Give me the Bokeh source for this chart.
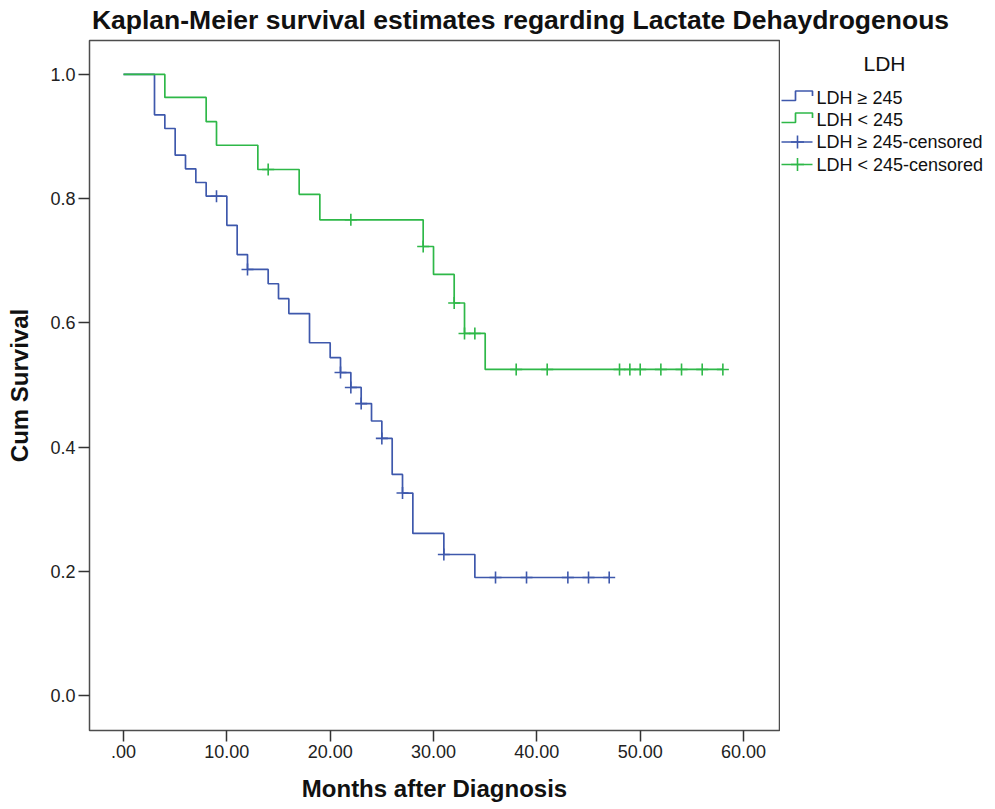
from bokeh.plotting import figure
from bokeh.layouts import column, row
from bokeh.models import Range1d, FixedTicker
from bokeh.embed import file_html
from bokeh.resources import INLINE
from bokeh.core.properties import value

# ---------------- data ----------------
title_text = "Kaplan-Meier survival estimates regarding Lactate Dehaydrogenous"
x_label = "Months after Diagnosis"
y_label = "Cum Survival"
legend_title = "LDH"
legend_labels = ["LDH \u2265 245", "LDH < 245", "LDH \u2265 245-censored", "LDH < 245-censored"]

x_ticks = [0, 10, 20, 30, 40, 50, 60]
x_tick_labels = [".00", "10.00", "20.00", "30.00", "40.00", "50.00", "60.00"]
y_ticks = [0.0, 0.2, 0.4, 0.6, 0.8, 1.0]
y_tick_labels = ["0.0", "0.2", "0.4", "0.6", "0.8", "1.0"]

# LDH >= 245 (blue)
high_time = [0, 3, 4, 5, 6, 7, 8, 10, 11, 12, 14, 15, 16, 18, 20, 21, 22, 23, 24, 25, 26, 27, 28, 31, 34, 47]
high_surv = [1.0, 0.935, 0.913, 0.870, 0.848, 0.826, 0.804, 0.757, 0.710, 0.686, 0.663, 0.639, 0.615,
             0.568, 0.544, 0.520, 0.496, 0.470, 0.442, 0.414, 0.356, 0.326, 0.261, 0.227, 0.190, 0.190]
high_cens_time = [9, 12, 21, 22, 23, 25, 27, 31, 36, 39, 43, 45, 47]
high_cens_surv = [0.804, 0.686, 0.520, 0.496, 0.470, 0.414, 0.326, 0.227, 0.190, 0.190, 0.190, 0.190, 0.190]

# LDH < 245 (green)
low_time = [0, 4, 8, 9, 13, 17, 19, 29, 30, 32, 33, 35, 58]
low_surv = [1.0, 0.963, 0.924, 0.886, 0.847, 0.807, 0.766, 0.723, 0.678, 0.632, 0.583, 0.525, 0.525]
low_cens_time = [14, 22, 29, 32, 33, 34, 38, 41, 48, 49, 50, 52, 54, 56, 58]
low_cens_surv = [0.847, 0.766, 0.723, 0.632, 0.583, 0.583, 0.525, 0.525, 0.525, 0.525, 0.525,
                 0.525, 0.525, 0.525, 0.525]

# ---------------- style ----------------
FONT = "Liberation Sans"
BLUE = "#3e58ac"
GREEN = "#2eb848"
FRAME = "#4d4d4d"
TEXT = "#111111"

# ---------------- title strip ----------------
tf = figure(width=995, height=38, x_range=Range1d(0, 995), y_range=Range1d(38, 0),
            x_axis_location=None, y_axis_location=None, min_border=0,
            output_backend="svg", toolbar_location=None, outline_line_color=None)
tf.grid.visible = False
tf.text(x=[520], y=[19], text=[title_text], text_font=value(FONT), text_font_style="bold",
        text_font_size="26.5px", text_align="center", text_baseline="middle", text_color=TEXT)

# ---------------- main plot ----------------
p = figure(width=780, height=771, x_range=Range1d(-3.29, 63.48), y_range=Range1d(-0.0564, 1.0547),
           min_border_left=89, min_border_right=1, min_border_top=2, min_border_bottom=79,
           output_backend="svg", toolbar_location=None)
p.grid.visible = False
p.outline_line_color = FRAME
p.outline_line_width = 1.5

p.step(high_time, high_surv, mode="after", line_color=BLUE, line_width=1.7)
p.step(low_time, low_surv, mode="after", line_color=GREEN, line_width=1.7)
p.scatter(high_cens_time, high_cens_surv, marker="cross", size=12, line_color=BLUE, line_width=1.6)
p.scatter(low_cens_time, low_cens_surv, marker="cross", size=12, line_color=GREEN, line_width=1.6)

p.xaxis.ticker = FixedTicker(ticks=x_ticks)
p.xaxis.major_label_overrides = dict(zip(x_ticks, x_tick_labels))
p.yaxis.ticker = FixedTicker(ticks=y_ticks)
p.yaxis.major_label_overrides = dict(zip(y_ticks, y_tick_labels))

for ax in (p.xaxis, p.yaxis):
    ax.axis_line_color = None
    ax.minor_tick_line_color = None
    ax.major_tick_in = 0
    ax.major_tick_out = 11
    ax.major_tick_line_color = "#333333"
    ax.major_tick_line_width = 1.5
    ax.major_label_text_font = FONT
    ax.major_label_text_font_size = "18px"
    ax.major_label_text_color = "#222222"
    ax.major_label_standoff = 3
    ax.axis_label_text_font = FONT
    ax.axis_label_text_font_style = "bold"
    ax.axis_label_text_font_size = "24px"
    ax.axis_label_text_color = TEXT

p.xaxis.axis_label = x_label
p.yaxis.axis_label = y_label
p.xaxis.axis_label_standoff = 14
p.yaxis.axis_label_standoff = 14

# ---------------- legend panel (frame aligned with the main plot: page y 40..730) ----------------
lf = figure(width=215, height=771, x_range=Range1d(780, 995), y_range=Range1d(730, 40),
            x_axis_location=None, y_axis_location=None,
            min_border_left=0, min_border_right=0, min_border_top=2, min_border_bottom=79,
            output_backend="svg", toolbar_location=None, outline_line_color=None)
lf.grid.visible = False

lf.text(x=[884], y=[63], text=[legend_title], text_font=value(FONT), text_font_size="21px",
        text_align="center", text_baseline="middle", text_color=TEXT)

entry_y = [97, 119, 141.5, 164]
colors = [BLUE, GREEN, BLUE, GREEN]
lf.text(x=[816] * 4, y=entry_y, text=legend_labels, text_font=value(FONT), text_font_size="18px",
        text_align="left", text_baseline="middle", text_color=TEXT)

for yc, c in zip(entry_y[:2], colors[:2]):
    lf.line([781, 795, 795, 812, 812], [yc + 3, yc + 3, yc - 6.5, yc - 6.5, yc - 1.5],
            line_color=c, line_width=1.7)
for yc, c in zip(entry_y[2:], colors[2:]):
    lf.line([781, 812], [yc, yc], line_color=c, line_width=1.7)
    lf.scatter([797], [yc], marker="cross", size=13, line_color=c, line_width=1.6)

layout = column(tf, row(p, lf))

open("out.html", "w").write(file_html(layout, INLINE))
